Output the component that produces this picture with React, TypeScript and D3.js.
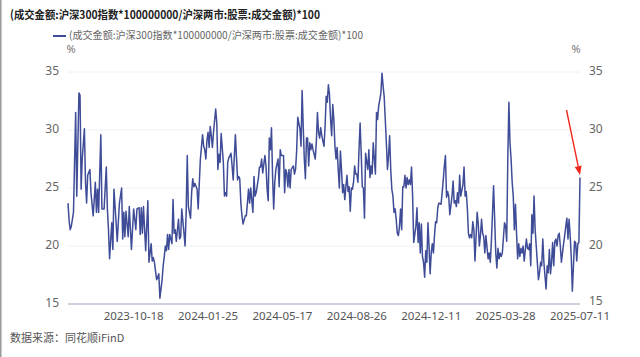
import React from "react";
import * as d3 from "d3";

// [trading-day index, value]
const series: [number, number][] = [
[0,23.7],[1,22.2],[2,21.4],[3,21.7],[4,22.3],[5,22.9],[7,31.5],[8,24.3],[10,33.2],[11,33.0],[12,24.9],[13,27.5],[15,30.1],[16,25.5],[17,23.7],[18,26.1],[20,26.6],[21,24.6],[23,22.6],[25,25.5],[26,22.9],[27,24.9],[28,22.9],[30,29.6],[31,23.2],[33,23.2],[35,26.8],[36,23.2],[37,21.4],[38,18.9],[40,22.0],[41,19.7],[42,24.9],[44,22.0],[45,20.4],[47,23.7],[49,25.0],[50,20.6],[51,22.9],[52,20.8],[53,23.0],[55,20.8],[56,23.4],[57,21.5],[58,19.7],[60,23.2],[62,21.4],[63,23.2],[65,23.3],[66,21.0],[67,23.3],[68,21.1],[69,23.4],[71,19.6],[73,23.9],[74,18.6],[76,20.2],[77,18.7],[78,19.0],[79,18.6],[81,17.1],[82,17.3],[83,17.6],[84,15.5],[86,17.1],[87,18.3],[88,19.1],[89,20.0],[90,19.6],[91,21.0],[92,19.7],[93,21.0],[95,20.2],[96,24.0],[97,21.1],[98,21.4],[99,20.4],[101,22.3],[102,20.6],[103,20.8],[104,23.2],[106,21.1],[107,20.0],[108,22.9],[109,27.8],[110,23.4],[112,22.4],[113,24.6],[114,25.8],[115,25.1],[116,25.4],[118,24.9],[119,23.2],[120,25.4],[121,27.5],[123,29.6],[124,28.6],[125,28.3],[126,27.5],[127,29.1],[128,29.8],[129,28.5],[130,30.3],[131,29.5],[132,28.5],[133,29.8],[135,31.8],[136,30.6],[137,26.6],[138,27.9],[139,27.2],[140,29.7],[142,27.2],[143,24.3],[144,24.6],[145,24.3],[146,27.2],[147,27.6],[149,28.0],[150,26.9],[151,25.7],[153,29.6],[155,25.7],[156,26.0],[157,25.8],[158,23.7],[159,22.6],[160,21.9],[162,22.6],[163,22.6],[164,23.7],[165,24.9],[166,23.7],[167,25.0],[169,22.9],[170,26.0],[171,24.3],[172,24.6],[174,25.8],[175,26.8],[176,26.8],[177,27.5],[178,26.3],[180,27.8],[181,26.9],[182,24.9],[183,23.9],[184,29.3],[185,28.3],[186,30.2],[187,26.0],[188,23.2],[189,25.5],[190,26.6],[192,27.5],[193,25.1],[194,28.3],[195,27.8],[197,27.8],[198,24.6],[199,26.6],[200,26.3],[201,25.1],[202,26.6],[203,25.0],[204,26.6],[206,26.9],[207,26.2],[208,26.6],[209,28.2],[210,31.1],[212,30.1],[213,28.6],[214,33.4],[215,30.3],[216,27.5],[217,25.8],[218,29.3],[219,29.3],[220,26.9],[221,28.9],[222,28.3],[223,28.8],[224,28.3],[226,27.5],[227,29.0],[228,31.5],[229,29.8],[230,29.3],[231,30.2],[232,29.5],[234,28.6],[235,30.3],[236,32.9],[237,32.4],[238,33.9],[239,33.1],[240,30.9],[241,29.5],[242,32.2],[243,30.9],[244,28.6],[245,27.5],[246,28.5],[247,26.6],[248,25.0],[249,28.2],[250,26.6],[251,24.6],[252,25.3],[253,24.0],[254,25.1],[255,26.1],[256,24.7],[257,25.1],[258,23.0],[259,25.0],[260,24.9],[261,25.5],[262,26.9],[263,26.2],[264,26.2],[265,25.5],[266,28.3],[267,30.6],[268,28.0],[269,25.1],[270,25.0],[271,22.4],[272,28.0],[274,26.6],[275,28.3],[276,25.9],[277,26.9],[278,26.2],[279,28.9],[280,27.5],[281,26.2],[282,31.5],[283,30.9],[284,32.1],[285,32.6],[286,33.2],[287,34.9],[288,33.8],[289,32.9],[290,30.9],[291,28.9],[292,26.6],[293,27.8],[294,29.5],[295,26.6],[296,24.9],[297,24.3],[298,22.9],[299,23.2],[300,22.3],[301,21.1],[302,20.9],[303,21.7],[304,23.2],[305,21.4],[306,25.1],[307,25.1],[308,26.1],[309,25.0],[310,25.9],[311,25.3],[312,25.7],[313,25.3],[314,26.8],[315,24.3],[316,20.3],[318,21.7],[319,23.3],[320,20.3],[321,22.0],[322,19.4],[323,21.9],[324,19.1],[325,18.6],[326,17.3],[327,19.6],[328,18.6],[329,22.0],[330,20.0],[331,17.6],[332,19.4],[333,20.2],[334,19.4],[335,20.9],[336,22.1],[337,22.0],[338,23.3],[339,23.7],[341,23.6],[342,24.6],[343,25.7],[344,26.9],[345,27.8],[346,24.2],[347,24.7],[348,24.3],[349,22.7],[351,24.3],[352,25.6],[353,23.7],[354,23.9],[355,23.4],[356,24.6],[357,23.7],[358,26.1],[359,24.3],[361,25.3],[362,26.8],[363,24.3],[364,24.7],[365,23.3],[366,21.1],[367,20.7],[368,21.0],[369,20.7],[370,22.1],[371,21.4],[372,18.7],[374,22.9],[375,21.9],[376,20.0],[377,20.9],[378,22.3],[379,21.1],[380,20.8],[381,19.4],[382,20.9],[384,18.9],[385,19.4],[386,18.6],[387,20.4],[389,25.2],[390,22.3],[391,19.4],[392,18.1],[393,19.8],[394,18.9],[395,19.4],[396,19.1],[397,19.4],[399,22.0],[400,21.7],[401,20.4],[402,27.5],[403,32.4],[404,28.9],[405,27.5],[406,25.5],[407,24.3],[408,21.4],[409,23.6],[410,21.1],[411,18.9],[412,20.2],[413,19.1],[414,19.8],[415,19.4],[416,20.0],[417,18.7],[419,20.6],[420,19.8],[421,19.7],[422,20.2],[423,18.3],[424,22.7],[425,21.1],[426,24.3],[427,21.4],[428,20.0],[429,18.6],[430,17.1],[431,17.7],[432,18.6],[433,18.3],[434,20.6],[435,18.6],[436,17.4],[437,16.3],[438,18.3],[439,17.7],[440,19.7],[441,17.6],[442,18.6],[443,20.3],[444,18.3],[445,20.4],[446,20.6],[447,20.0],[448,20.9],[449,21.1],[450,20.0],[451,18.6],[452,19.4],[453,20.2],[454,20.9],[455,21.7],[456,22.4],[457,20.6],[458,22.3],[459,20.9],[460,19.1],[461,16.1],[462,18.3],[463,20.4],[464,20.3],[465,18.7],[466,20.2],[467,20.3],[468,25.9]
];

const xTickDays = [60, 128, 196, 264, 332, 400, 468];
const xTickLabels = ["2023-10-18", "2024-01-25", "2024-05-17", "2024-08-26", "2024-12-11", "2025-03-28", "2025-07-11"];
const yTicks = [15, 20, 25, 30, 35];

const titleText = "(成交金额:沪深300指数*100000000/沪深两市:股票:成交金额)*100";
const seriesName = "(成交金额:沪深300指数*100000000/沪深两市:股票:成交金额)*100";
const sourceText = "数据来源：同花顺iFinD";

const W = 640, H = 357;
const L = 68, R = 580, T = 72, B = 304;
const FONT = "'Noto Sans CJK SC', 'Noto Sans', sans-serif";
const NUMFONT = "'Noto Sans', 'Open Sans', sans-serif";
const LINE = "#3f4c97";

export default function App() {
  const x = d3.scaleLinear().domain([0, 468]).range([L, R]);
  const y = d3.scaleLinear().domain([15, 35]).range([B, T]);
  const line = d3.line<[number, number]>().x(d => x(d[0])).y(d => y(d[1]));

  // annotation arrow
  const ax1 = 566.5, ay1 = 110, ax2 = 580, ay2 = 175;
  const ang = Math.atan2(ay2 - ay1, ax2 - ax1);
  const hl = 9, hw = 3.5;
  const bx = ax2 - hl * Math.cos(ang), by = ay2 - hl * Math.sin(ang);
  const px = -Math.sin(ang) * hw, py = Math.cos(ang) * hw;

  return (
    <svg width={W} height={H} style={{ position: "absolute", left: 0, top: 0, background: "#fff" }} fontFamily={FONT}>
      <rect x={0} y={0} width={W} height={H} fill="#fff" />
      <rect x={0} y={0} width={1.5} height={H} fill="#9a9a9a" />
      <text x={10} y={16} fontSize={11.5} fontWeight="bold" fill="#222" dominantBaseline="middle" textLength={310} lengthAdjust="spacingAndGlyphs">{titleText}</text>
      <line x1={53} x2={66} y1={36} y2={36} stroke={LINE} strokeWidth={2} />
      <text x={69} y={36} fontSize={10.5} fill="#666" dominantBaseline="middle" textLength={294} lengthAdjust="spacingAndGlyphs">{seriesName}</text>
      <text x={71} y={50} fontSize={11} fill="#777" textAnchor="middle" dominantBaseline="middle" fontFamily={NUMFONT}>%</text>
      <text x={576} y={50} fontSize={11} fill="#777" textAnchor="middle" dominantBaseline="middle" fontFamily={NUMFONT}>%</text>
      {yTicks.filter(t => t > 15).map(t => (
        <line key={"g" + t} x1={L} x2={R} y1={y(t)} y2={y(t)} stroke="#eef0f7" strokeWidth={1} />
      ))}
      <line x1={L} x2={R} y1={y(15)} y2={y(15)} stroke="#9aa0bb" strokeWidth={1} />
      {yTicks.map(t => (
        <g key={"yl" + t}>
          <text x={59} y={y(t)} fontSize={12} fill="#666" textAnchor="end" dominantBaseline="middle" fontFamily={NUMFONT}>{t}</text>
          <text x={589} y={y(t) - (t === 15 ? 2 : 0)} fontSize={12} fill="#666" textAnchor="start" dominantBaseline="middle" fontFamily={NUMFONT}>{t}</text>
        </g>
      ))}
      {xTickDays.map((d, i) => (
        <text key={"xl" + i} x={x(d)} y={317} fontSize={11.5} fill="#555" textAnchor="middle" dominantBaseline="middle" fontFamily={NUMFONT}>{xTickLabels[i]}</text>
      ))}
      <path d={line(series) || ""} fill="none" stroke={LINE} strokeWidth={1.5} strokeLinejoin="round" />
      <line x1={ax1} y1={ay1} x2={bx} y2={by} stroke="#f0261b" strokeWidth={1.4} />
      <polygon points={`${ax2},${ay2} ${bx + px},${by + py} ${bx - px},${by - py}`} fill="#f0261b" />
      <text x={10} y={339} fontSize={11} fill="#555" dominantBaseline="middle">{sourceText}</text>
    </svg>
  );
}
